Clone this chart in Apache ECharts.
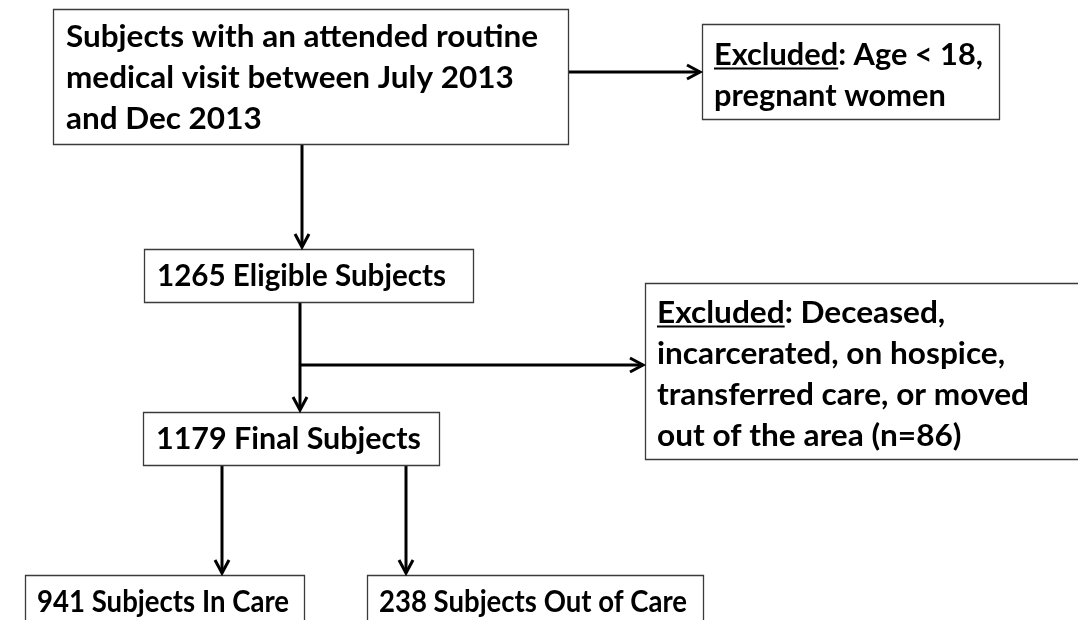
<!DOCTYPE html>
<html><head><meta charset="utf-8">
<script src="https://cdn.jsdelivr.net/npm/echarts@6/dist/echarts.min.js"></script>
<style>html,body{margin:0;padding:0;background:#fff}#c{width:1078px;height:620px}</style>
</head><body><div id="c"></div>
<script>
// ---- content ----
const boxTexts = [
  "Subjects with an attended routine\nmedical visit between July 2013\nand Dec 2013",
  "Excluded: Age < 18,\npregnant women",
  "1265 Eligible Subjects",
  "Excluded: Deceased,\nincarcerated, on hospice,\ntransferred care, or moved\nout of the area (n=86)",
  "1179 Final Subjects",
  "941 Subjects In Care",
  "238 Subjects Out of Care"
];
const underlinedWord = "Excluded";
const underlinedBoxes = [1, 3];

// ---- layout ----
const FONT_FAMILY = 'Lato,"Open Sans",sans-serif';
const FONT_SIZE = 30;
const LINE_H = 41;
const boxes = [ // [x, y, w, h, textX, firstLineCenterY, widestLineWidth]
  [53, 9, 515, 135, 66, 37, 472],
  [702, 24, 297, 95, 714, 55, 269],
  [144, 249, 329, 53, 157, 276, 289],
  [645, 283, 440, 176, 657, 313, 372],
  [143, 412, 296, 53, 156, 439, 265],
  [25, 575, 279, 60, 37, 602, 252],
  [367, 575, 336, 60, 379, 602, 308]
];
const connectors = [ // polylines, last point is arrow tip
  [[568, 72], [700, 72]],
  [[302, 144], [302, 247]],
  [[300, 302], [300, 410]],
  [[300, 365], [643, 365]],
  [[222, 465], [222, 573]],
  [[406, 465], [406, 573]]
];

const font = 'bold ' + FONT_SIZE + 'px ' + FONT_FAMILY;
const cv = document.createElement('canvas').getContext('2d');
cv.font = font;

const elements = [];
boxes.forEach((b, i) => {
  const lines = boxTexts[i].split('\n');
  const maxW = Math.max(...lines.map(l => cv.measureText(l).width));
  const sx = b[6] / maxW;
  elements.push({type: 'rect', shape: {x: b[0] + 0.5, y: b[1] + 0.5, width: b[2], height: b[3]},
    style: {fill: '#fff', stroke: '#3a3a3a', lineWidth: 1.3}, z: 1});
  elements.push({type: 'text', x: b[4], y: b[5] - LINE_H / 2, scaleX: sx, z: 2,
    style: {text: boxTexts[i], font: font, fill: '#000', lineHeight: LINE_H, verticalAlign: 'top', align: 'left'}});
  if (underlinedBoxes.includes(i)) {
    const w = cv.measureText(underlinedWord).width * sx;
    const uy = b[5] + FONT_SIZE * 0.45;
    elements.push({type: 'line', shape: {x1: b[4], y1: uy, x2: b[4] + w, y2: uy}, z: 3,
      style: {stroke: '#000', lineWidth: 2}});
  }
});
connectors.forEach(c => {
  elements.push({type: 'polyline', shape: {points: c}, z: 0, style: {stroke: '#000', lineWidth: 3, fill: null}});
  const p = c[c.length - 1], q = c[c.length - 2];
  const dx = p[0] - q[0], dy = p[1] - q[1], L = Math.hypot(dx, dy);
  const ux = dx / L, uy = dy / L, len = 13, wid = 7;
  elements.push({type: 'polyline', z: 4, shape: {points: [
    [p[0] - ux * len - uy * wid, p[1] - uy * len + ux * wid], p,
    [p[0] - ux * len + uy * wid, p[1] - uy * len - ux * wid]]},
    style: {stroke: '#000', lineWidth: 3, fill: null}});
});

const chart = echarts.init(document.getElementById('c'), null, {renderer: 'canvas'});
chart.setOption({backgroundColor: '#fff', animation: false, graphic: {elements: elements}});
</script></body></html>
